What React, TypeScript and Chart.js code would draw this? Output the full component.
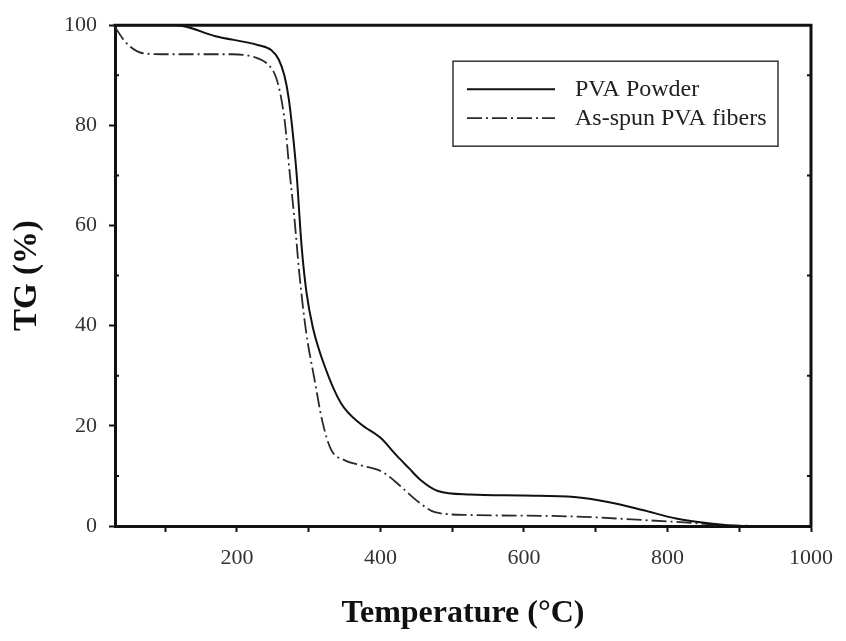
import React, { useEffect, useRef } from 'react';
import { Chart, registerables } from 'chart.js';

Chart.register(...registerables);

// ---- Data ----
const powderTemps = [30, 115, 170, 230, 248, 258, 266, 272, 277, 283, 290, 297, 306, 322, 345, 372, 400, 423, 440, 455, 480, 525, 600, 670, 717, 765, 812, 860, 900, 1000];
const powderTG = [100, 100, 97.8, 96.0, 95.0, 93.2, 90.0, 85.5, 79.5, 70.5, 56, 46.5, 39.5, 32, 24.5, 20.4, 17.6, 14.0, 11.5, 9.3, 7.0, 6.3, 6.1, 5.8, 4.8, 3.2, 1.5, 0.5, 0, 0];

const fiberTemps = [30, 46, 69, 101, 193, 225, 243, 253, 260, 267, 273, 280, 287, 296, 308, 319, 331, 349, 370, 400, 413, 429, 453, 477, 525, 669, 765, 846, 884, 1000];
const fiberTG = [99.6, 96.4, 94.4, 94.2, 94.2, 93.6, 92.2, 90.1, 86.6, 80.3, 71.2, 61.5, 50.3, 39.1, 29.3, 20.9, 15.3, 13.2, 12.2, 11.0, 9.8, 7.8, 4.8, 2.7, 2.2, 1.9, 1.2, 0.5, 0.1, 0];

const seriesLabels = ['PVA Powder', 'As-spun PVA fibers'];
const xTickValues = [100, 200, 300, 400, 500, 600, 700, 800, 900, 1000];
const xLabelStep = 200;
const yMinorTicks = [10, 30, 50, 70, 90];
const xTitle = 'Temperature (\u00B0C)';
const yTitle = 'TG (%)';

const SERIF = '"Liberation Serif", "Times New Roman", Times, serif';
const AXIS_COLOR = '#111';

const framePlugin = {
  id: 'frameAndInnerTicks',
  afterDraw(chart: any) {
    const { ctx, chartArea } = chart;
    const y = chart.scales.y;
    ctx.save();
    ctx.strokeStyle = AXIS_COLOR;
    ctx.lineWidth = 3;
    ctx.beginPath();
    ctx.moveTo(chartArea.left - 1.5, chartArea.top);
    ctx.lineTo(chartArea.right, chartArea.top);
    ctx.lineTo(chartArea.right, chartArea.bottom + 1.5);
    ctx.stroke();
    ctx.lineWidth = 2;
    ctx.beginPath();
    for (const v of yMinorTicks) {
      const py = y.getPixelForValue(v);
      ctx.moveTo(chartArea.left, py);
      ctx.lineTo(chartArea.left + 4, py);
      ctx.moveTo(chartArea.right, py);
      ctx.lineTo(chartArea.right - 4, py);
    }
    ctx.stroke();
    ctx.restore();
  },
};

const boxLegendPlugin = {
  id: 'boxLegend',
  afterDraw(chart: any) {
    const { ctx, chartArea } = chart;
    const boxW = 325;
    const boxH = 85;
    const left = chartArea.right - 358;
    const top = chartArea.top + 36;
    ctx.save();
    ctx.strokeStyle = '#333';
    ctx.lineWidth = 1.5;
    ctx.strokeRect(left, top, boxW, boxH);
    chart.data.datasets.forEach((ds: any, i: number) => {
      const rowY = top + 28 + i * 29;
      ctx.beginPath();
      ctx.setLineDash(ds.borderDash || []);
      ctx.strokeStyle = ds.borderColor;
      ctx.lineWidth = ds.borderWidth;
      ctx.moveTo(left + 14, rowY);
      ctx.lineTo(left + 102, rowY);
      ctx.stroke();
      ctx.setLineDash([]);
      ctx.fillStyle = '#222';
      ctx.font = `24px ${SERIF}`;
      ctx.textBaseline = 'middle';
      ctx.textAlign = 'left';
      ctx.fillText(ds.label, left + 122, rowY + 1);
    });
    ctx.restore();
  },
};

export default function App() {
  const canvasRef = useRef<HTMLCanvasElement | null>(null);

  useEffect(() => {
    if (!canvasRef.current) return;
    const chart = new Chart(canvasRef.current, {
      type: 'line',
      data: {
        datasets: [
          {
            label: seriesLabels[0],
            data: powderTemps.map((t, i) => ({ x: t, y: powderTG[i] })),
            borderColor: '#111',
            borderWidth: 2,
            pointRadius: 0,
            fill: false,
            cubicInterpolationMode: 'monotone',
          },
          {
            label: seriesLabels[1],
            data: fiberTemps.map((t, i) => ({ x: t, y: fiberTG[i] })),
            borderColor: '#2a2a2a',
            borderWidth: 1.8,
            borderDash: [15, 4, 2, 4],
            pointRadius: 0,
            fill: false,
            cubicInterpolationMode: 'monotone',
          },
        ],
      },
      options: {
        animation: false,
        responsive: false,
        devicePixelRatio: 1,
        layout: { padding: { left: 0, top: 24, right: 27, bottom: 0 } },
        plugins: {
          legend: { display: false },
          tooltip: { enabled: false },
        },
        scales: {
          x: {
            type: 'linear',
            min: 30,
            max: 1000,
            afterBuildTicks: (scale: any) => {
              scale.ticks = xTickValues.map((v) => ({ value: v }));
            },
            afterFit: (scale: any) => {
              scale.height = 115;
            },
            ticks: {
              autoSkip: false,
              maxRotation: 0,
              padding: 13,
              color: '#333',
              font: { family: SERIF, size: 22 },
              callback: (v: any) => (Number(v) % xLabelStep === 0 ? String(v) : ''),
            },
            grid: {
              drawOnChartArea: false,
              drawTicks: true,
              tickLength: 6,
              tickWidth: 2,
              tickColor: AXIS_COLOR,
            },
            border: { display: true, width: 3, color: AXIS_COLOR },
            title: {
              display: true,
              text: xTitle,
              color: '#111',
              font: { family: SERIF, size: 32, weight: 'bold' },
              padding: { top: 0, bottom: 8 },
            },
          },
          y: {
            min: 0,
            max: 100,
            afterFit: (scale: any) => {
              scale.width = 115;
            },
            ticks: {
              stepSize: 20,
              padding: 12,
              color: '#333',
              font: { family: SERIF, size: 22 },
            },
            grid: {
              drawOnChartArea: false,
              drawTicks: true,
              tickLength: 6,
              tickWidth: 2,
              tickColor: AXIS_COLOR,
            },
            border: { display: true, width: 3, color: AXIS_COLOR },
            title: {
              display: true,
              text: yTitle,
              color: '#111',
              font: { family: SERIF, size: 33, weight: 'bold' },
              padding: { top: 8, bottom: 0 },
            },
          },
        },
      },
      plugins: [framePlugin, boxLegendPlugin],
    } as any);
    return () => chart.destroy();
  }, []);

  return (
    <div style={{ position: 'absolute', left: 0, top: 0, width: 846, height: 641, background: '#fff' }}>
      <canvas ref={canvasRef} width={846} height={641} style={{ width: 846, height: 641, display: 'block' }} />
    </div>
  );
}
